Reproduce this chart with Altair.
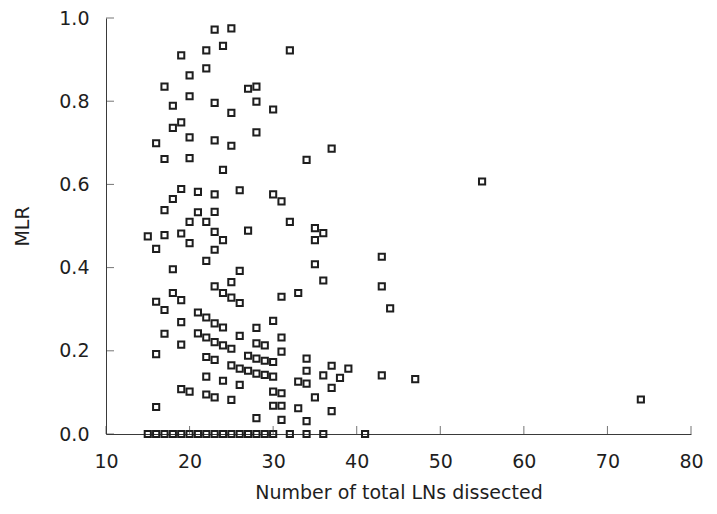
import altair as alt
import pandas as pd

# Number of total LNs dissected (x) and MLR (y)
lns = [
    23, 25, 24, 22, 19, 22, 20, 17, 27, 28, 20, 18, 23, 28, 25, 19, 18, 20, 28, 16,
    23, 25, 17, 20, 32, 30, 37, 34,
    24, 19, 21, 23, 26, 18, 17, 21, 23, 20, 22, 15, 17, 19, 23, 27, 16, 20, 24, 23,
    22, 18, 26, 25, 23, 24, 18, 19, 25, 26, 16,
    30, 31, 32, 35, 36, 35, 43, 35, 36, 43, 31, 33,
    44, 30, 28, 26, 31, 28, 29, 31, 27, 28, 29, 30, 34, 26, 27, 28, 29, 30, 34, 37,
    39, 36, 38, 33, 34, 43, 47, 37, 26, 30, 31, 35, 30, 31, 33, 37, 28, 31, 34,
    17, 21, 22, 23, 24, 19, 17, 21, 22, 23, 24, 25, 19, 16, 22, 23, 25, 22, 24, 19,
    20, 22, 23, 25, 16,
    55, 74,
    15, 16, 17, 18, 19, 20, 21, 22, 23, 24, 25, 26, 27, 28, 29, 30, 32, 34, 36, 41,
]
mlr = [
    0.972, 0.975, 0.933, 0.922, 0.910, 0.879, 0.862, 0.835, 0.830, 0.835, 0.812, 0.789,
    0.796, 0.799, 0.772, 0.749, 0.736, 0.713, 0.725, 0.699,
    0.706, 0.693, 0.661, 0.663, 0.922, 0.780, 0.686, 0.659,
    0.635, 0.589, 0.582, 0.576, 0.586, 0.565, 0.538, 0.533, 0.534, 0.510, 0.510, 0.475,
    0.478, 0.482, 0.486, 0.489, 0.445, 0.459, 0.466, 0.443,
    0.416, 0.396, 0.392, 0.365, 0.355, 0.339, 0.339, 0.322, 0.328, 0.315, 0.318,
    0.576, 0.559, 0.510, 0.495, 0.483, 0.466, 0.426, 0.408, 0.369, 0.355, 0.330, 0.339,
    0.302, 0.272, 0.255, 0.236, 0.232, 0.218, 0.213, 0.198, 0.188, 0.181, 0.176, 0.173,
    0.181, 0.157, 0.152, 0.145, 0.142, 0.138, 0.152, 0.164,
    0.157, 0.141, 0.135, 0.126, 0.121, 0.141, 0.132, 0.111, 0.118, 0.102, 0.098, 0.088,
    0.068, 0.068, 0.062, 0.055, 0.038, 0.034, 0.031,
    0.298, 0.292, 0.280, 0.266, 0.256, 0.269, 0.241, 0.242, 0.232, 0.221, 0.213, 0.205,
    0.215, 0.192, 0.185, 0.178, 0.165, 0.138, 0.128, 0.108,
    0.102, 0.095, 0.088, 0.082, 0.065,
    0.607, 0.083,
    0.0, 0.0, 0.0, 0.0, 0.0, 0.0, 0.0, 0.0, 0.0, 0.0, 0.0, 0.0, 0.0, 0.0, 0.0, 0.0,
    0.0, 0.0, 0.0, 0.0,
]

x_ticks = [10, 20, 30, 40, 50, 60, 70, 80]
y_ticks = [0.0, 0.2, 0.4, 0.6, 0.8, 1.0]

df = pd.DataFrame({"lns": lns, "mlr": mlr})
xt_df = pd.DataFrame({"lns": x_ticks, "mlr": [y_ticks[0]] * len(x_ticks)})
yt_df = pd.DataFrame({"mlr": y_ticks, "lns": [x_ticks[0]] * len(y_ticks)})

FONT = "DejaVu Sans"
AX = "#3a3a3a"
INK = "#1e1e1e"

xscale = alt.Scale(domain=[10, 80], nice=False, zero=False)
yscale = alt.Scale(domain=[0, 1], nice=False, zero=False)

xaxis = alt.Axis(
    values=x_ticks, title="Number of total LNs dissected", ticks=False, tickSize=0,
    grid=False, labelPadding=18, titlePadding=12, domainColor=AX, labelFlush=False)
yaxis = alt.Axis(
    values=y_ticks, format=".1f", title="MLR", ticks=False, tickSize=0,
    grid=False, labelPadding=17, titlePadding=26, domainColor=AX, labelFlush=False)

points = alt.Chart(df).mark_point(
    shape="square", filled=False, size=38, strokeWidth=2, color=INK, opacity=1
).encode(
    x=alt.X("lns:Q", scale=xscale, axis=xaxis),
    y=alt.Y("mlr:Q", scale=yscale, axis=yaxis),
)

xt = alt.Chart(xt_df).mark_tick(
    orient="vertical", size=8, thickness=1, color=AX, yOffset=-4
).encode(
    x=alt.X("lns:Q", scale=xscale, axis=xaxis),
    y=alt.Y("mlr:Q", scale=yscale, axis=yaxis),
)

yt = alt.Chart(yt_df).mark_tick(
    orient="horizontal", size=8, thickness=1, color=AX, xOffset=4
).encode(
    x=alt.X("lns:Q", scale=xscale, axis=xaxis),
    y=alt.Y("mlr:Q", scale=yscale, axis=yaxis),
)

chart = alt.layer(points, xt, yt).properties(
    width=585, height=416,
    autosize=alt.AutoSizeParams(type="none"),
    padding={"left": 98, "top": 10, "right": 12, "bottom": 70},
).configure_view(stroke=None).configure_axis(
    labelFont=FONT, titleFont=FONT, labelFontSize=19, titleFontSize=19,
    titleFontWeight="normal", labelColor=INK, titleColor=INK, domainWidth=1,
)

chart.save("out.html", embed_options={"renderer": "svg", "actions": False})
